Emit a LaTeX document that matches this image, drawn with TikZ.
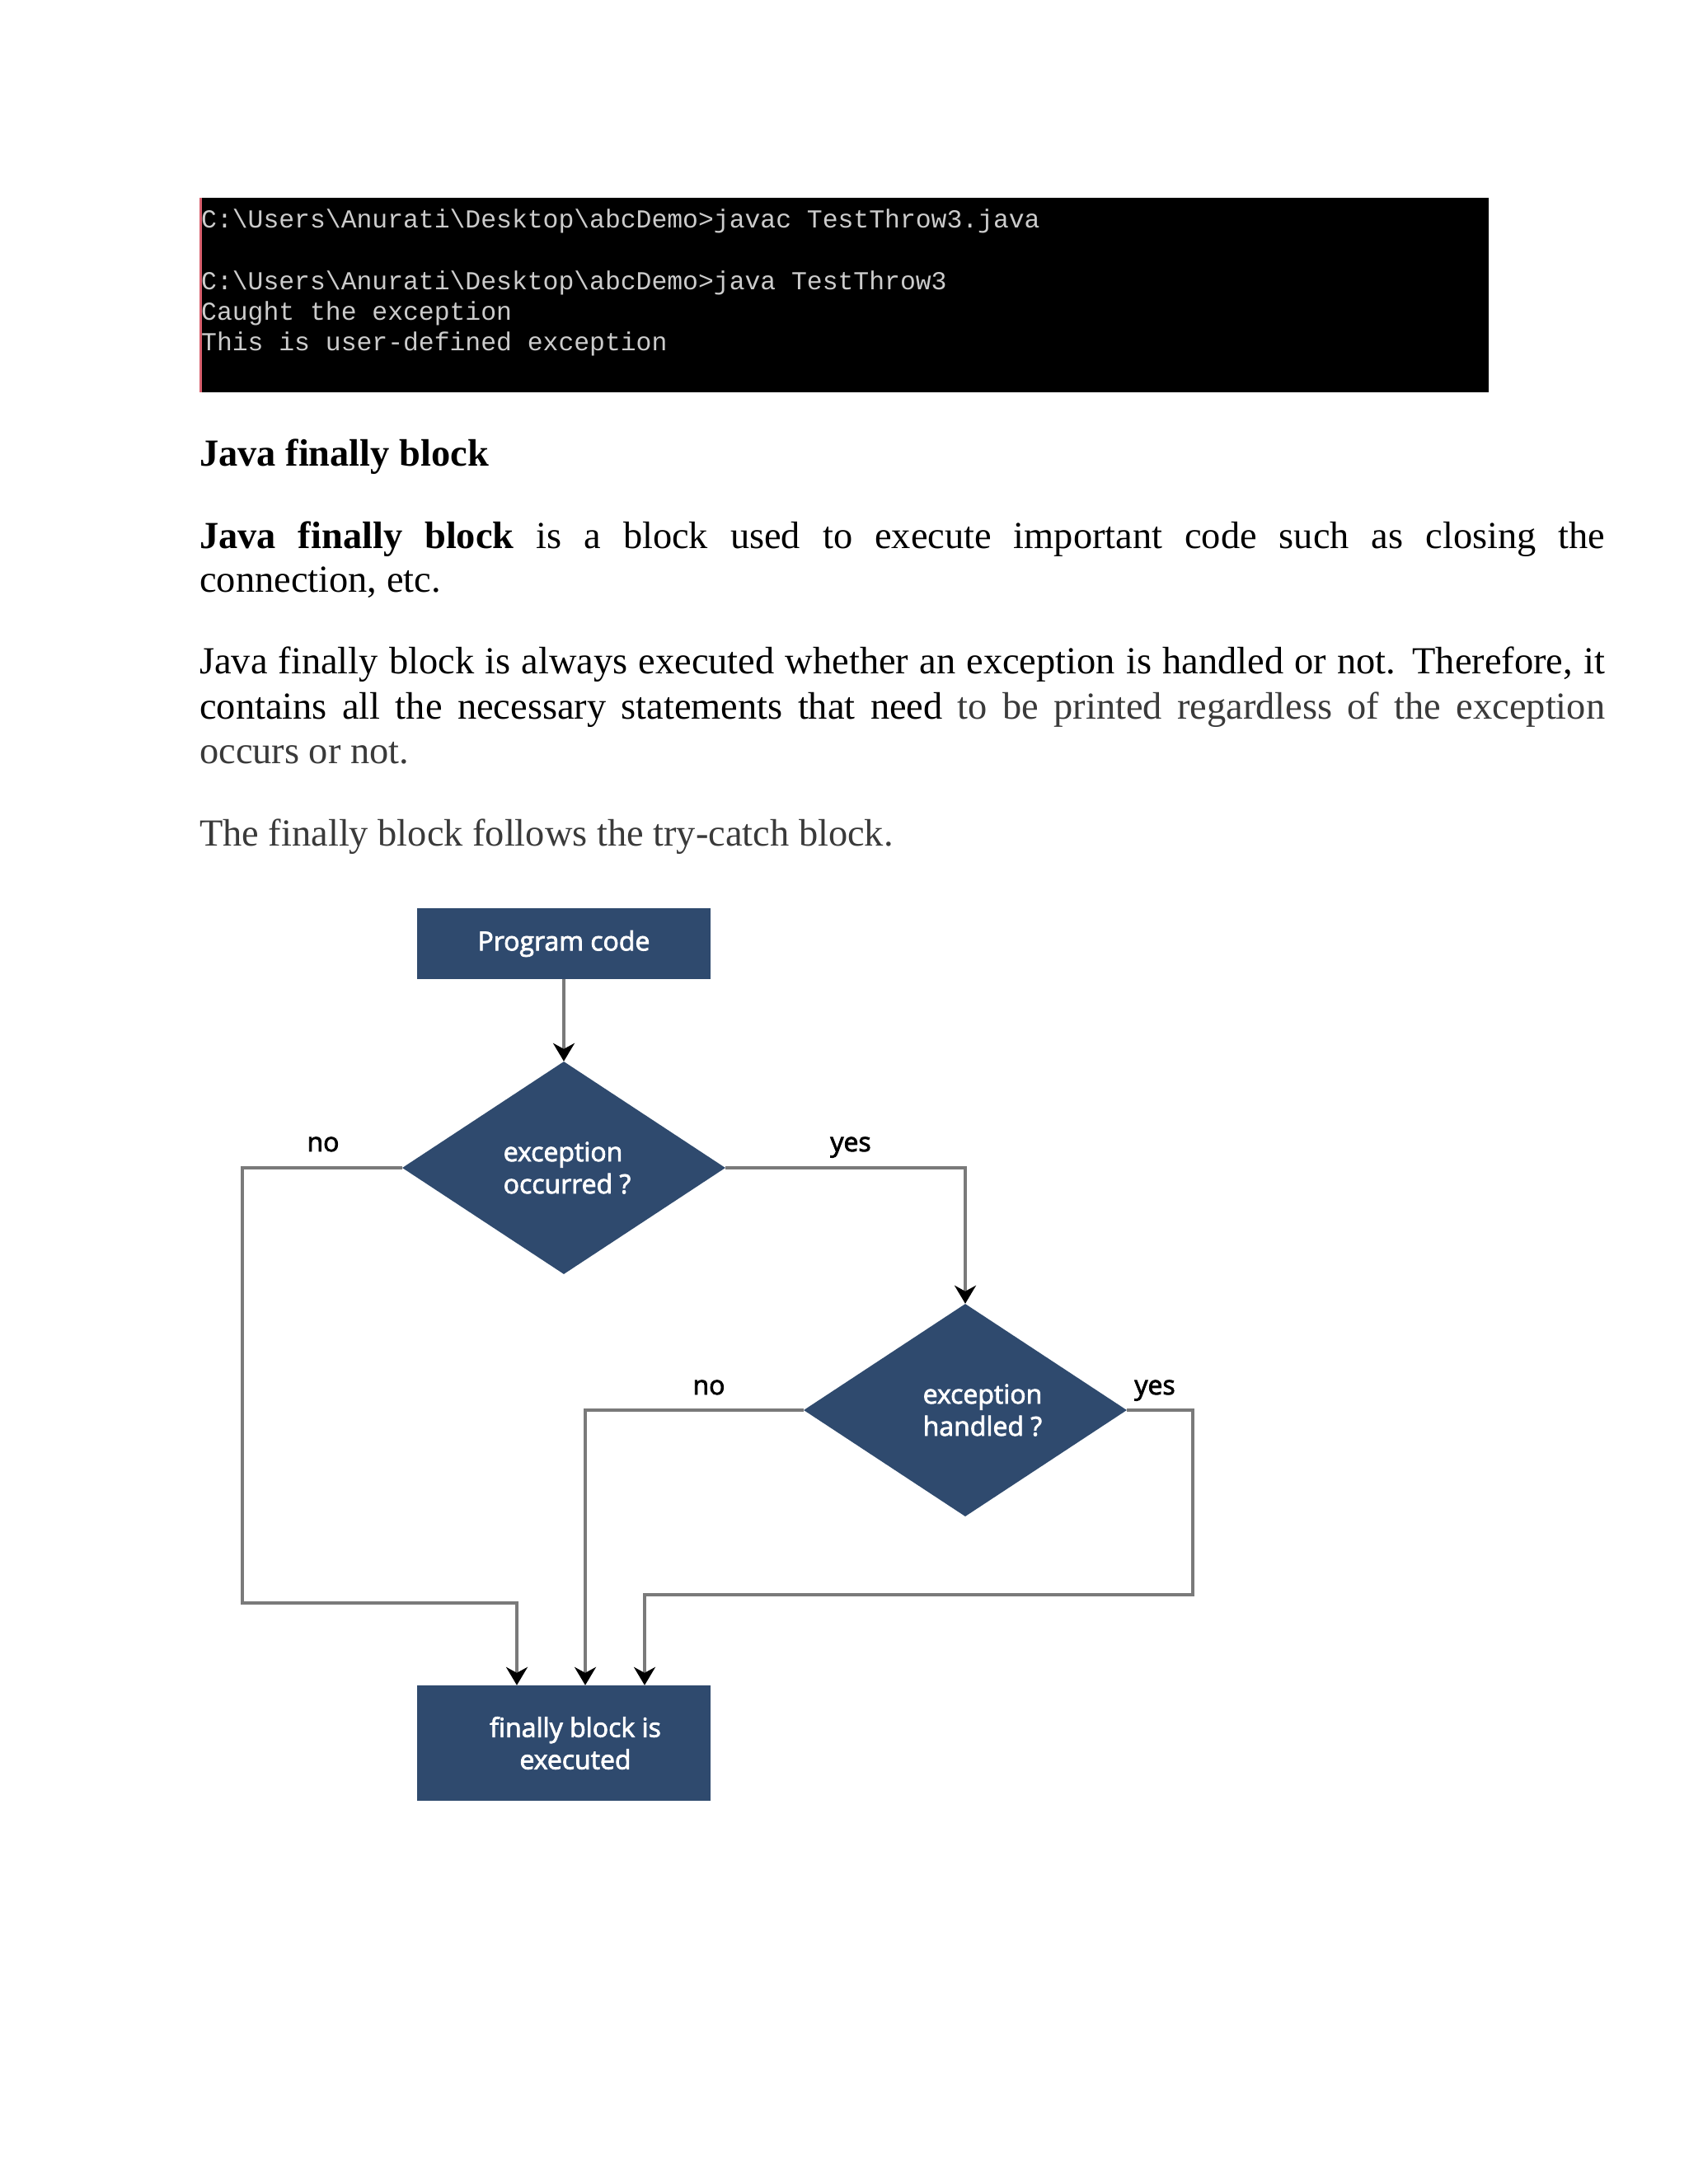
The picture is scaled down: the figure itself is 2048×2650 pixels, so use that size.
\documentclass[tikz,border=0pt]{standalone}
\usepackage{fontspec}
\setmainfont{Liberation Serif}
\newfontfamily\consfont{Liberation Mono}
\newfontfamily\flowfont[FakeBold=2.5]{Open Sans}
\usetikzlibrary{shapes.geometric,arrows.meta}
\definecolor{boxblue}{HTML}{2F4A6E}
\definecolor{linegray}{HTML}{7A7A7A}
\definecolor{txtgray}{HTML}{3A3A3A}
\definecolor{termtxt}{HTML}{CCCCCC}
\definecolor{termred}{HTML}{D9606E}
\begin{document}
\begin{tikzpicture}[x=1pt,y=-1pt,
  bodytext/.style={anchor=base west,inner sep=0pt,font=\fontsize{46.4pt}{52.5pt}\selectfont},
  termtext/.style={anchor=base west,inner sep=0pt,text=termtxt,font=\consfont\fontsize{31.4pt}{37pt}\selectfont},
  flowbox/.style={rectangle,fill=boxblue,draw=none,text=white,align=center,inner sep=0pt,font=\flowfont\fontsize{32pt}{39pt}\selectfont},
  decision/.style={diamond,fill=boxblue,draw=none,text=white,align=left,inner sep=0pt,minimum width=392pt,minimum height=258pt,font=\flowfont\fontsize{32pt}{39pt}\selectfont},
  flowlabel/.style={anchor=base,inner sep=0pt,font=\flowfont\fontsize{32pt}{39pt}\selectfont},
  conn/.style={draw=linegray,line width=3.5pt,-{Stealth[length=22pt,width=26pt,inset=7pt,color=black]}},
  plainline/.style={draw=linegray,line width=3.5pt}]
\useasboundingbox[fill=white] (0,0) rectangle (2048,2650);

% terminal
\node[rectangle,fill=black,inner sep=0pt,minimum width=1563pt,minimum height=236pt,anchor=north west] (term) at (243,240) {};
\draw[termred,line width=3pt] (term.north west) -- (term.south west);
\node[termtext] (t1) at (244,276) {C:\textbackslash Users\textbackslash Anurati\textbackslash Desktop\textbackslash abcDemo>javac TestThrow3.java};
\node[termtext] (t2) at (244,351) {C:\textbackslash Users\textbackslash Anurati\textbackslash Desktop\textbackslash abcDemo>java TestThrow3};
\node[termtext] (t3) at (244,388) {Caught the exception};
\node[termtext] (t4) at (244,425) {This is user-defined exception};

% text
\node[bodytext] (h) at (242,565) {\textbf{Java finally block}};
\node[bodytext] (p1a) at (242,665) {\makebox[1705pt][s]{\textbf{Java finally block} is a block used to execute important code such as closing the}};
\node[bodytext] (p1b) at (242,718) {connection, etc.};
\node[bodytext] (p2a) at (242,817) {\makebox[1705pt][s]{Java finally block is always executed whether an exception is handled or not. Therefore, it}};
\node[bodytext] (p2b) at (242,872) {\makebox[1705pt][s]{contains all the necessary statements that need {\color{txtgray}to be printed regardless of the exception}}};
\node[bodytext,text=txtgray] (p2c) at (242,926) {occurs or not.};
\node[bodytext,text=txtgray] (p3) at (242,1026) {The finally block follows the try-catch block.};

% flowchart
\node[flowbox,minimum width=356pt,minimum height=86pt] (pc) at (684,1145) {Program code};
\node[decision] (d1) at (684,1417) {\hspace*{8pt}exception\\\hspace*{8pt}occurred ?};
\node[decision] (d2) at (1171,1711) {\hspace*{42pt}exception\\\hspace*{42pt}handled ?};
\node[flowbox,minimum width=356pt,minimum height=140pt] (fb) at (684,2115) {\hspace*{28pt}finally block is\\\hspace*{28pt}executed};

\node[flowlabel] (no1) at (392,1397) {no};
\node[flowlabel] (yes1) at (1032,1397) {yes};
\node[flowlabel] (no2) at (860,1692) {no};
\node[flowlabel] (yes2) at (1401,1692) {yes};

\coordinate (b1) at (294,1945);
\coordinate (b3) at (1447,1935);

\draw[conn] (pc.south) -- (d1.north);
\draw[conn] (d1.west) -| (b1) -| ([xshift=-57pt]fb.north);
\draw[conn] (d1.east) -| (d2.north);
\draw[conn] (d2.west) -| ([xshift=26pt]fb.north);
\draw[conn] (d2.east) -| (b3) -| ([xshift=98pt]fb.north);
\end{tikzpicture}
\end{document}
